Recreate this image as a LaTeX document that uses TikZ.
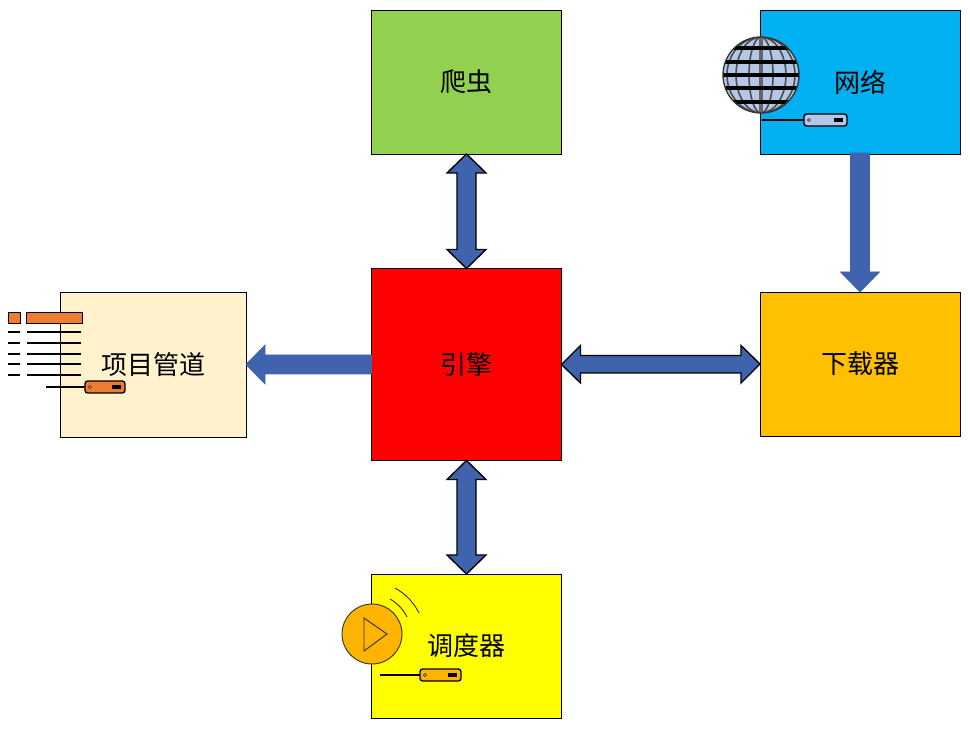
\documentclass[tikz,border=0pt]{standalone}
\usepackage{fontspec}
\usetikzlibrary{calc}
\newfontfamily\cjk{Noto Sans CJK SC}
\definecolor{arrowblue}{HTML}{3F64AD}
\definecolor{globeblue}{HTML}{B4C7E7}
\definecolor{iconorange}{HTML}{ED7D31}
\definecolor{iconamber}{HTML}{FFB400}
\definecolor{boxyellow}{RGB}{255,255,0}
\definecolor{boxred}{RGB}{255,0,0}
\tikzset{
  box/.style={draw=black,line width=0.7pt,outer sep=0pt,inner sep=0pt,font=\cjk\fontsize{19.5}{23}\selectfont},
  blockarrow/.style={draw=black,line width=1pt,fill=arrowblue,line join=miter},
  plainarrow/.style={draw=arrowblue,line width=0.5pt,fill=arrowblue},
  wire/.style={draw=black,line width=1.1pt}
}
\begin{document}
\begin{tikzpicture}[x=0.75pt,y=-0.75pt]
  \useasboundingbox (0,0) rectangle (970,737);

  % blocks
  \node[box,fill={rgb,255:red,146;green,208;blue,80},minimum width=142.5pt,minimum height=108pt] (spider) at (466.5,82) {爬虫};
  \node[box,fill={rgb,255:red,0;green,176;blue,240},minimum width=150pt,minimum height=108pt] (network) at (860,82) {网络};
  \node[box,fill={rgb,255:red,255;green,192;blue,0},minimum width=150pt,minimum height=108pt] (loader) at (860,364) {下载器};
  \node[box,fill=boxred,minimum width=142.5pt,minimum height=144pt] (engine) at (466.5,364.5) {引擎};
  \node[box,fill={rgb,255:red,255;green,242;blue,204},minimum width=139.5pt,minimum height=108.75pt] (pipeline) at (153,364.5) {项目管道};
  \node[box,fill=boxyellow,minimum width=142.5pt,minimum height=108pt] (scheduler) at (466.5,646) {调度器};

  % arrows
  \draw[blockarrow] (spider.south) -- ++(19.5,19) -- ++(-10,0) -- ++(0,76.5) -- ++(10,0)
      -- (engine.north) -- ++(-19.5,-19) -- ++(10,0) -- ++(0,-76.5) -- ++(-10,0) -- cycle;
  \draw[blockarrow] (engine.south) -- ++(19.5,19) -- ++(-10,0) -- ++(0,75.5) -- ++(10,0)
      -- (scheduler.north) -- ++(-19.5,-19) -- ++(10,0) -- ++(0,-75.5) -- ++(-10,0) -- cycle;
  \draw[blockarrow] (engine.east) -- ++(19,-19) -- ++(0,10) -- ++(160.5,0) -- ++(0,-10)
      -- (loader.west) -- ++(-19,19) -- ++(0,-10) -- ++(-160.5,0) -- ++(0,10) -- cycle;
  \draw[plainarrow] (loader.north) -- ++(19.5,-20) -- ++(-10,0) -- ($(network.south)+(9.5,-1)$)
      -- ($(network.south)+(-9.5,-1)$) -- ($(loader.north)+(-9.5,-20)$) -- ++(-10,0) -- cycle;
  \draw[plainarrow] (pipeline.east) -- ++(19,-19.5) -- ++(0,10) -- ($(engine.west)+(0,-9.5)$)
      -- ($(engine.west)+(0,9.5)$) -- ($(pipeline.east)+(19,9.5)$) -- ++(0,10) -- cycle;

  % globe
  \begin{scope}
    \clip (761,75) circle (38);
    \fill[globeblue] (761,75) circle (38);
    \foreach \r in {12,25,34}
      \draw[black!70,line width=1.2pt] (761,75) ellipse ({\r} and 38);
    \draw[black!60,line width=3pt] (761,36) -- (761,114);
    \foreach \y in {48,62,75,88,102}
      \draw[black,line width=2.6pt] (720,\y) -- (802,\y);
  \end{scope}
  \draw[black!80,line width=1pt] (761,75) circle (38);

  % list
  \fill[iconorange,draw=black,line width=0.6pt] (8,312) rectangle (20,323);
  \fill[iconorange,draw=black,line width=0.6pt] (26,312) rectangle (82,323);
  \foreach \y in {332,343,354,364,375}
    {
    \draw[wire] (8,\y) -- (20,\y);
    \draw[wire] (27,\y) -- (81,\y);
    }

  % player
  \draw[black!80,fill=iconamber,line width=0.7pt] (372,634) circle (30);
  \draw[black!80,line width=0.7pt] (364,618) -- (387,634) -- (364,651) -- cycle;
  \draw[black!80,line width=0.7pt] (395,588) .. controls (406,594) and (414,603) .. (419,613);
  \draw[black!80,line width=0.7pt] (390,599) .. controls (397,603) and (403,609) .. (407,617);

  % small devices
  \foreach \x/\y/\w/\c/\s in {804/120/43/globeblue/762,85/387/40/iconorange/46,420/675/41/iconamber/380}
    {
    \draw[wire] (\s,\y) -- (\x,\y);
    \draw[black,line width=1pt,fill=\c,rounded corners=2pt] (\x,\y-6) rectangle (\x+\w,\y+6);
    \fill[white,draw=black,line width=0.4pt] (\x+5,\y) circle (1.5);
    \fill[black] (\x+\w-13,\y-2) rectangle (\x+\w-4,\y+2);
    }
\end{tikzpicture}
\end{document}
